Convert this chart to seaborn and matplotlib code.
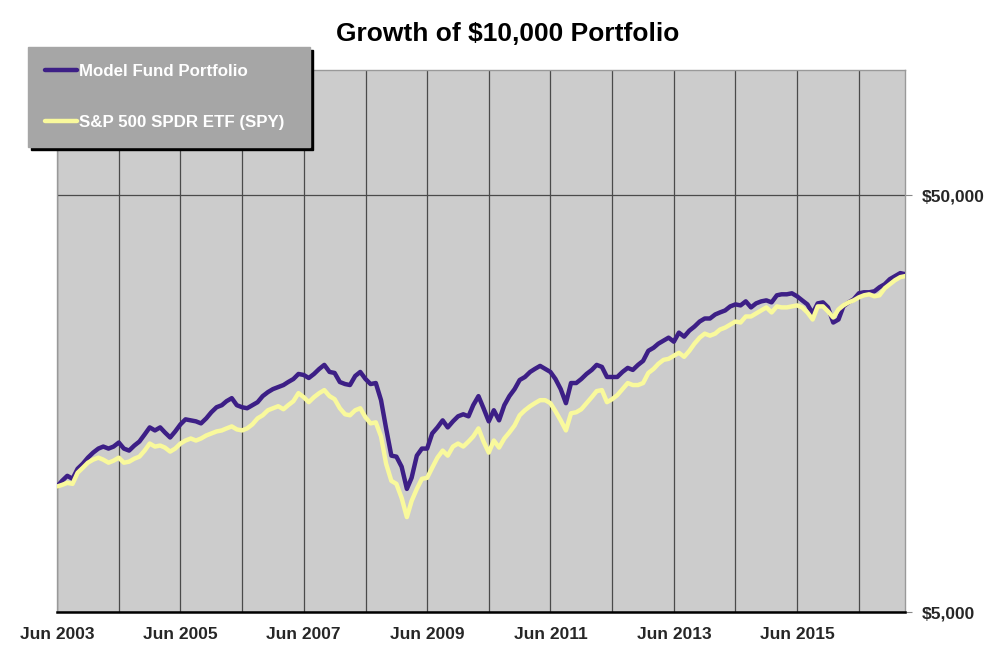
import matplotlib
matplotlib.use("Agg")
import matplotlib.pyplot as plt
import matplotlib.dates as mdates
from matplotlib.lines import Line2D
from matplotlib.ticker import FixedLocator, NullLocator
import pandas as pd
import seaborn as sns

# ---------------- data ----------------
start_month = "2003-06-01"
n_months = 166  # Jun 2003 .. Mar 2017, monthly

series_names = ["Model Fund Portfolio", "S&P 500 SPDR ETF (SPY)"]

model_fund = [10000, 10323, 10614, 10439, 11036, 11349, 11734, 12066, 12338, 12476,
              12338, 12476, 12758, 12338, 12202, 12546, 12828, 13339, 13870, 13640,
              13870, 13489, 13118, 13564, 14104, 14502, 14422, 14341, 14182, 14583,
              15081, 15506, 15680, 16033, 16304, 15680, 15506, 15420, 15680, 15945,
              16486, 16858, 17142, 17334, 17528, 17824, 18124, 18637, 18533, 18226,
              18637, 19163, 19595, 18846, 18741, 17824, 17626, 17528, 18429, 18846,
              18124, 17626, 17725, 16123, 13793, 11866, 11800, 11160, 9873, 10497,
              11866, 12338, 12338, 13414, 13870, 14422, 13870, 14341, 14746, 14913,
              14746, 15680, 16486, 15420, 14341, 15249, 14422, 15680, 16486, 17142,
              18024, 18327, 18846, 19163, 19486, 19163, 18846, 18124, 17142, 15856,
              17725, 17725, 18124, 18637, 19057, 19595, 19378, 18327, 18327, 18327,
              18846, 19271, 19057, 19595, 20036, 21184, 21542, 22029, 22399, 22778,
              22276, 23420, 22905, 23682, 24217, 24903, 25322, 25322, 25893, 26183,
              26476, 27074, 27376, 27224, 27839, 26924, 27529, 27839, 27992, 27683,
              28784, 28946, 28946, 29108, 28624, 27992, 27376, 26038, 27529, 27683,
              26924, 24764, 25182, 27074, 27683, 28150, 29108, 29271, 29271, 29434,
              30098, 30605, 31470, 32000, 32541, 32360]

spy = [10000, 10095, 10208, 10152, 10793, 11098, 11412, 11605, 11734, 11605,
       11412, 11540, 11734, 11412, 11476, 11670, 11800, 12202, 12687, 12476,
       12546, 12407, 12133, 12338, 12687, 12900, 13045, 12900, 13045, 13265,
       13414, 13564, 13640, 13793, 13947, 13716, 13640, 13793, 14104, 14583,
       14830, 15249, 15420, 15593, 15334, 15680, 16033, 16764, 16395, 15945,
       16395, 16764, 17047, 16486, 16213, 15420, 14913, 14830, 15249, 15420,
       14664, 14182, 14262, 13191, 11349, 10323, 10152, 9390, 8446, 9234,
       9873, 10439, 10497, 11098, 11734, 12202, 11866, 12476, 12687, 12476,
       12828, 13191, 13793, 12828, 12066, 12900, 12407, 13045, 13489, 14025,
       14830, 15249, 15593, 15856, 16123, 16123, 15856, 15164, 14422, 13640,
       14996, 15081, 15334, 15856, 16395, 16951, 17047, 15945, 16213, 16578,
       17142, 17725, 17528, 17528, 17725, 18741, 19163, 19705, 20149, 20261,
       20603, 20950, 20489, 21184, 22029, 22778, 23291, 23032, 23291, 23816,
       24082, 24489, 24903, 24764, 25606, 25606, 26038, 26476, 26924, 26183,
       27074, 26924, 26924, 27074, 27224, 26924, 26183, 25182, 27074, 27074,
       26330, 25463, 26625, 27224, 27683, 27992, 28466, 28784, 28946, 28624,
       28784, 29931, 30605, 31295, 31823, 32000]

x_label_dates = ["2003-06-01", "2005-06-01", "2007-06-01", "2009-06-01",
                 "2011-06-01", "2013-06-01", "2015-06-01"]
x_label_texts = ["Jun 2003", "Jun 2005", "Jun 2007", "Jun 2009",
                 "Jun 2011", "Jun 2013", "Jun 2015"]
x_grid_dates = ["2004-06-01", "2006-06-01", "2008-06-01", "2010-06-01",
                "2012-06-01", "2014-06-01", "2016-06-01"]

y_ticks = [5000, 50000]
y_tick_labels = ["$5,000", "$50,000"]
title_text = "Growth of $10,000 Portfolio"

# ---------------- styling ----------------
sns.set_theme(style="white")
plt.rcParams["font.family"] = ["Liberation Sans", "DejaVu Sans"]

colors = {series_names[0]: "#3d1f86", series_names[1]: "#f9f99c"}

dates = pd.date_range(start_month, periods=n_months, freq="MS")
df = pd.DataFrame({
    "date": list(dates) * 2,
    "value": model_fund + spy,
    "series": [series_names[0]] * n_months + [series_names[1]] * n_months,
})

fig = plt.figure(figsize=(10, 6.72), dpi=100)
ax = fig.add_axes([0.057, 1 - 612 / 672, 0.905 - 0.057, (612 - 70) / 672])
ax.set_facecolor("#cccccc")

sns.lineplot(data=df, x="date", y="value", hue="series", hue_order=series_names,
             palette=colors, linewidth=3.2, legend=False, ax=ax, zorder=3)

ax.set_yscale("log")
ax.set_ylim(5000, 100000)
ax.set_xlim(dates[0], dates[-1])

# y axis on the right
ax.yaxis.tick_right()
ax.set_yticks(y_ticks)
ax.set_yticklabels(y_tick_labels)
ax.yaxis.set_minor_locator(NullLocator())
ax.tick_params(axis="y", which="major", right=True, left=False, length=5,
               width=0.8, color="#888888", pad=7, labelsize=12.5)
for lab in ax.get_yticklabels():
    lab.set_fontweight("bold")

# x axis: yearly gridlines, labels every two years (odd years)
major_pos = mdates.date2num(pd.to_datetime(x_label_dates))
minor_pos = mdates.date2num(pd.to_datetime(x_grid_dates))
ax.xaxis.set_major_locator(FixedLocator(major_pos))
ax.xaxis.set_minor_locator(FixedLocator(minor_pos))
ax.set_xticklabels(x_label_texts)
ax.tick_params(axis="x", which="both", length=0, pad=11, labelsize=12.5)
for lab in ax.get_xticklabels():
    lab.set_fontweight("bold")

ax.grid(True, axis="x", which="both", color="#4a4a4a", linewidth=0.9)
ax.grid(True, axis="y", which="major", color="#4a4a4a", linewidth=0.9)
ax.set_axisbelow(True)

ax.set_xlabel("")
ax.set_ylabel("")

for side in ["top", "right", "left"]:
    ax.spines[side].set_color("#999999")
    ax.spines[side].set_linewidth(1.0)
ax.spines["bottom"].set_color("black")
ax.spines["bottom"].set_linewidth(1.8)
ax.spines["bottom"].set_zorder(4)

# title
fig.text(0.508, 1 - 34 / 672, title_text, ha="center", va="center",
         fontsize=19, fontweight="bold", color="black")

# legend
handles = [Line2D([], [], color=colors[n], linewidth=3.2) for n in series_names]
leg = ax.legend(handles, series_names, loc="center", mode="expand",
                bbox_to_anchor=(0.028, 1 - 147 / 672, 0.282, 100 / 672),
                bbox_transform=fig.transFigure,
                fontsize=12.2, frameon=True, fancybox=False,
                facecolor="#a6a6a6", edgecolor="#a6a6a6", framealpha=1,
                shadow={"color": "black", "alpha": 1},
                handlelength=1.9, handletextpad=0.12,
                borderpad=1.0, labelspacing=2.1, borderaxespad=0)
for t in leg.get_texts():
    t.set_color("white")
    t.set_fontweight("bold")
leg.set_zorder(10)

fig.savefig("out.png", dpi=100)
